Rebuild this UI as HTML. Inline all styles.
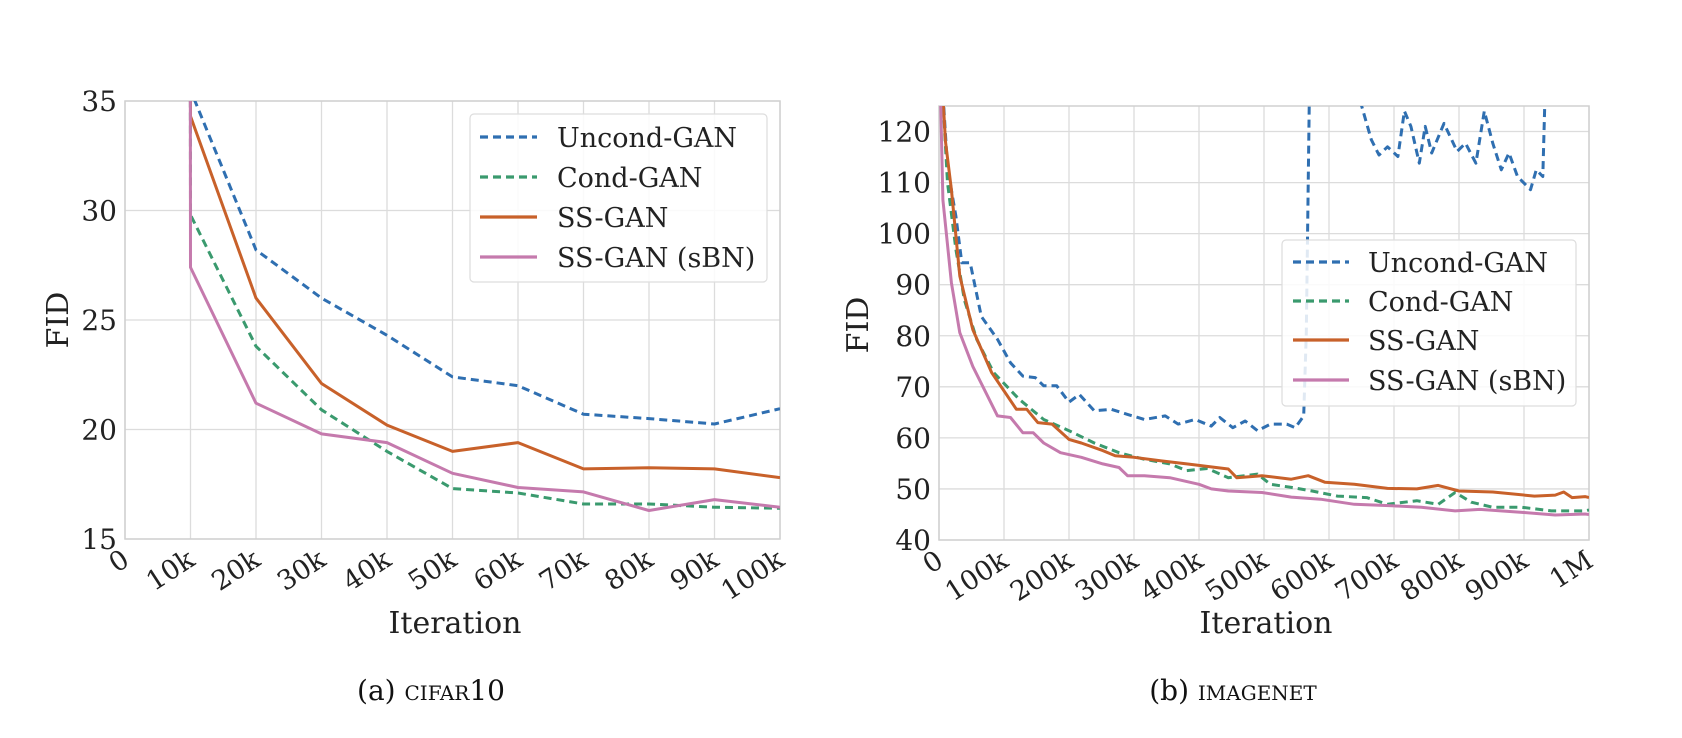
<!DOCTYPE html>
<html><head><meta charset="utf-8"><style>
html,body{margin:0;padding:0;background:#fff;}
svg{display:block;font-family:"DejaVu Serif","Liberation Serif",serif;}
</style></head><body>
<svg id="fig" width="1682" height="738" viewBox="0 0 1682 738">
<defs>
<clipPath id="clipA"><rect x="125" y="101" width="655" height="438"/></clipPath>
<clipPath id="clipB"><rect x="939" y="106" width="650" height="434"/></clipPath>
</defs>
<g id="chartA"></g>
<g id="chartB"></g>
<text x="431" y="700" text-anchor="middle" font-size="28" fill="#111">(a) <tspan font-variant="small-caps">cifar</tspan>10</text>
<text x="1233" y="700" text-anchor="middle" font-size="28" fill="#111">(b) <tspan font-variant="small-caps">imagenet</tspan></text>
</svg>
<script>
// ---- CIFAR10 data ----
const cifarX = [9.9, 10, 20, 30, 40, 50, 60, 70, 80, 90, 100];
const cifarUncond = [60, 35.5, 28.2, 26.0, 24.3, 22.4, 22.0, 20.7, 20.5, 20.25, 20.95];
const cifarCond = [60, 29.8, 23.8, 20.9, 19.0, 17.3, 17.1, 16.6, 16.6, 16.45, 16.4];
const cifarSS = [60, 34.3, 26.0, 22.1, 20.2, 19.0, 19.4, 18.2, 18.25, 18.2, 17.8];
const cifarSBN = [60, 27.4, 21.2, 19.8, 19.4, 18.0, 17.35, 17.15, 16.3, 16.8, 16.45];
const cifarXTicks = [0,10,20,30,40,50,60,70,80,90,100];
const cifarXTickLabels = ["0","10k","20k","30k","40k","50k","60k","70k","80k","90k","100k"];
const cifarYTicks = [15,20,25,30,35];

// ---- IMAGENET data (x in k iterations) ----
const inSSX = [0,10,19,32,52,81,119,135,152,174,200,219,252,271,300,342,381,445,458,497,542,568,594,639,690,735,768,800,852,916,948,961,974,994,1000];
const inSS = [140,118,108.6,91.7,81.2,72.8,65.6,65.6,63,62.7,59.7,59,57.5,56.5,56.2,55.5,54.9,53.9,52.2,52.6,51.9,52.6,51.3,50.9,50.1,50,50.7,49.6,49.4,48.6,48.8,49.4,48.3,48.5,48.3];
const inSBNX = [0,6,19,32,52,90,110,129,145,161,187,219,252,277,290,316,355,400,419,445,497,542,587,639,697,742,794,832,897,948,994,1000];
const inSBN = [140,106.6,90.4,80.6,74,64.3,64,61,61,59,57.1,56.2,54.9,54.2,52.6,52.6,52.2,50.9,50,49.6,49.3,48.4,48,47,46.7,46.4,45.7,46,45.4,44.9,45.1,45];
const inCondX = [0,13,26,39,58,84,123,161,200,239,277,316,355,381,413,445,490,510,542,574,613,658,690,735,768,794,819,852,897,942,994,1000];
const inCond = [140,110,96.9,87,79.3,72.8,67.6,63.6,61.4,59,57.1,55.8,54.9,53.6,54,52.2,52.9,50.9,50.3,49.6,48.6,48.3,47,47.7,47,49.3,47.4,46.4,46.4,45.7,45.7,45.9];
const inUncondX = [0,13,26,35,48,65,90,110,129,148,161,181,200,216,239,265,290,316,348,368,394,419,432,452,471,490,510,535,548,561,565,571,600,648,665,677,690,706,716,726,739,748,758,777,797,810,826,839,852,865,877,890,910,919,929,935];
const inUncond = [140,113,103.4,94.3,94.3,83.8,79.3,74.7,72.1,71.8,70.2,70.2,67,68.5,65.3,65.6,64.6,63.6,64.3,62.7,63.6,62.3,64,62,63.3,61.4,62.7,62.7,62,64.3,80.6,140,140,126,118.4,115.4,117,115.1,124,121,113.8,121,115.8,121.6,116.1,117.7,113.8,124,117.7,112.5,115.8,111.2,108.6,112.5,111.2,140];
const inXTicks = [0,100,200,300,400,500,600,700,800,900,1000];
const inXTickLabels = ["0","100k","200k","300k","400k","500k","600k","700k","800k","900k","1M"];
const inYTicks = [40,50,60,70,80,90,100,110,120];

const NS = "http://www.w3.org/2000/svg";
const COL = {uncond:"#2f6fb1", cond:"#3a9a6e", ss:"#c8612a", sbn:"#c57aad"};

function mk(tag, attrs, parent){
  const e = document.createElementNS(NS, tag);
  for (const k in attrs) e.setAttribute(k, attrs[k]);
  parent.appendChild(e);
  return e;
}

function drawChart(g, cfg){
  const sx = v => cfg.x0 + (v - cfg.xmin) / (cfg.xmax - cfg.xmin) * (cfg.x1 - cfg.x0);
  const sy = v => cfg.y1 - (v - cfg.ymin) / (cfg.ymax - cfg.ymin) * (cfg.y1 - cfg.y0);
  cfg.xticks.forEach((t, i) => {
    const l = mk("line", {x1:sx(t), x2:sx(t), y1:cfg.y0, y2:cfg.y1, stroke:"#dcdcdc", "stroke-width":1.3}, g);
    
    
    const tx = mk("text", {x:0, y:0, "font-size":27, fill:"#222", "text-anchor":"end",
      transform:`translate(${sx(t)+6},${cfg.y1+25}) rotate(-33)`}, g);
    tx.textContent = cfg.xlabels[i];
    
    
  });
  cfg.yticks.forEach(t => {
    const l = mk("line", {x1:cfg.x0, x2:cfg.x1, y1:sy(t), y2:sy(t), stroke:"#dcdcdc", "stroke-width":1.3}, g);
    
    
    const tx = mk("text", {x:cfg.x0-8, y:sy(t)+10, "font-size":28, fill:"#222", "text-anchor":"end"}, g);
    tx.textContent = String(t);
    
    
  });
  const fr = mk("rect", {x:cfg.x0, y:cfg.y0, width:cfg.x1-cfg.x0, height:cfg.y1-cfg.y0, fill:"none", stroke:"#d0d0d0", "stroke-width":1.5}, g);
  
  
  const lg = mk("g", {"clip-path":`url(#${cfg.clip})`}, g);
  cfg.series.forEach(s => {
    const d = s.xs.map((x, i) => (i ? "L" : "M") + sx(x).toFixed(1) + "," + sy(s.ys[i]).toFixed(1)).join(" ");
    const p = mk("path", {d:d, fill:"none", stroke:s.color, "stroke-width":3, "stroke-linejoin":"round"}, lg);
    if (s.dash) p.setAttribute("stroke-dasharray", "8,5");
    
    
  });
  const yl = mk("text", {x:0, y:0, "font-size":30, fill:"#222", "text-anchor":"middle", transform:`translate(${cfg.ylabX},${cfg.ylabY}) rotate(-90)`}, g);
  yl.textContent = "FID";
  
  
  const xl = mk("text", {x:cfg.xlabX, y:cfg.xlabY, "font-size":30, fill:"#222", "text-anchor":"middle"}, g);
  xl.textContent = "Iteration";
  
  
  const L = cfg.legend;
  const lgb = mk("rect", {x:L.x, y:L.y, width:L.w, height:L.h, rx:4, fill:"#fff", "fill-opacity":0.85, stroke:"#dddddd", "stroke-width":1.2}, g);
  
  
  cfg.series.forEach((s, i) => {
    const yy = L.ey[i];
    const ll = mk("line", {x1:L.lx0, x2:L.lx1, y1:yy, y2:yy, stroke:s.color, "stroke-width":3.2}, g);
    if (s.dash) ll.setAttribute("stroke-dasharray", "8,5");
    
    
    const tt = mk("text", {x:L.tx, y:yy+10, "font-size":27, fill:"#222"}, g);
    tt.textContent = s.label;
    
    
  });
}

drawChart(document.getElementById("chartA"), {
  x0:125, x1:780, y0:101, y1:539, xmin:0, xmax:100, ymin:15, ymax:35, clip:"clipA",
  xticks:cifarXTicks, xlabels:cifarXTickLabels, yticks:cifarYTicks,
  ylabX:68, ylabY:320, xlabX:455, xlabY:633,
  legend:{x:470, y:114, w:297, h:168, lx0:480, lx1:537, tx:557, ey:[137,177,217,257]},
  series:[
    {name:"uncond-gan", label:"Uncond-GAN", color:COL.uncond, dash:true, xs:cifarX, ys:cifarUncond},
    {name:"cond-gan", label:"Cond-GAN", color:COL.cond, dash:true, xs:cifarX, ys:cifarCond},
    {name:"ss-gan", label:"SS-GAN", color:COL.ss, dash:false, xs:cifarX, ys:cifarSS},
    {name:"ss-gan-sbn", label:"SS-GAN (sBN)", color:COL.sbn, dash:false, xs:cifarX, ys:cifarSBN}
  ]
});
drawChart(document.getElementById("chartB"), {
  x0:939, x1:1589, y0:106, y1:540, xmin:0, xmax:1000, ymin:40, ymax:125, clip:"clipB",
  xticks:inXTicks, xlabels:inXTickLabels, yticks:inYTicks,
  ylabX:868, ylabY:325, xlabX:1266, xlabY:633,
  legend:{x:1282, y:240, w:294, h:166, lx0:1293, lx1:1349, tx:1368, ey:[262,301,340,380]},
  series:[
    {name:"uncond-gan", label:"Uncond-GAN", color:COL.uncond, dash:true, xs:inUncondX, ys:inUncond},
    {name:"cond-gan", label:"Cond-GAN", color:COL.cond, dash:true, xs:inCondX, ys:inCond},
    {name:"ss-gan", label:"SS-GAN", color:COL.ss, dash:false, xs:inSSX, ys:inSS},
    {name:"ss-gan-sbn", label:"SS-GAN (sBN)", color:COL.sbn, dash:false, xs:inSBNX, ys:inSBN}
  ]
});
</script>
</body></html>
